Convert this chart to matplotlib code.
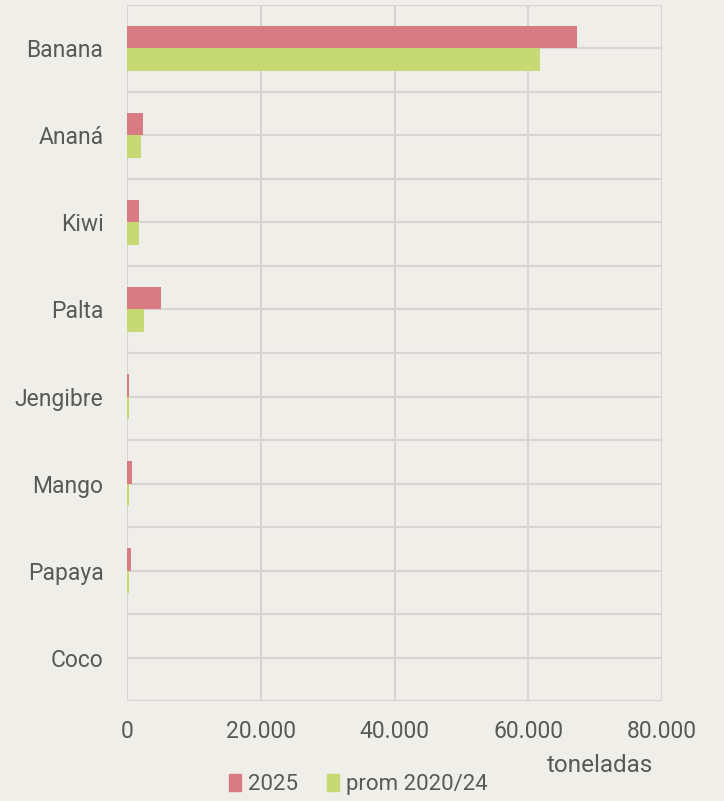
import numpy as np
import matplotlib
matplotlib.use("Agg")
import matplotlib.pyplot as plt
from matplotlib.patches import Patch

# data (toneladas)
categories = ["Banana", "Ananá", "Kiwi", "Palta", "Jengibre", "Mango", "Papaya", "Coco"]
val_2025 = [67300, 2350, 1850, 5100, 350, 700, 550, 0]
val_prom = [61800, 2100, 1800, 2500, 250, 250, 250, 0]
xticks = [0, 20000, 40000, 60000, 80000]
xtick_labels = ["0", "20.000", "40.000", "60.000", "80.000"]

BG = "#efeee9"
RED = "#d97b83"
GREEN = "#c6d975"
GRID = "#d6d5d3"
TXT = "#595959"

plt.rcParams["font.family"] = ["Roboto", "DejaVu Sans"]

fig = plt.figure(figsize=(7.24, 8.01), dpi=100, facecolor=BG)
ax = fig.add_axes([0.1754, 0.1248, 0.7390, 0.8690], facecolor=BG)

y = np.arange(len(categories))
h = 0.264
ax.barh(y - h / 2, val_2025, height=h, color=RED, label="2025", zorder=3)
ax.barh(y + h / 2, val_prom, height=h, color=GREEN, label="prom 2020/24", zorder=3)

ax.set_xlim(0, 80000)
ax.set_ylim(len(categories) - 0.5, -0.5)

ax.set_xticks(xticks)
ax.set_xticklabels(xtick_labels)
ax.set_yticks(y)
ax.set_yticklabels(categories)
ax.set_yticks(np.arange(len(categories) + 1) - 0.5, minor=True)

ax.grid(True, which="major", axis="both", color=GRID, lw=1.5, zorder=0)
ax.grid(True, which="minor", axis="y", color=GRID, lw=1.5, zorder=0)
for s in ax.spines.values():
    s.set_visible(False)
ax.tick_params(which="both", length=0)
ax.tick_params(axis="y", labelsize=16.5, labelcolor=TXT, pad=17)
ax.tick_params(axis="x", labelsize=16.5, labelcolor=TXT, pad=14)

fig.text(0.829, 0.044, "toneladas", fontsize=17.5, color=TXT, ha="center", va="center")

handles = [Patch(color=RED), Patch(color=GREEN)]
fig.legend(handles, ["2025", "prom 2020/24"], loc="center", bbox_to_anchor=(0.495, 0.021),
           ncol=2, frameon=False, fontsize=16, labelcolor=TXT,
           handlelength=0.55, handleheight=0.8, handletextpad=0.3, columnspacing=1.3)

fig.savefig("out.png", dpi=100, facecolor=BG)
